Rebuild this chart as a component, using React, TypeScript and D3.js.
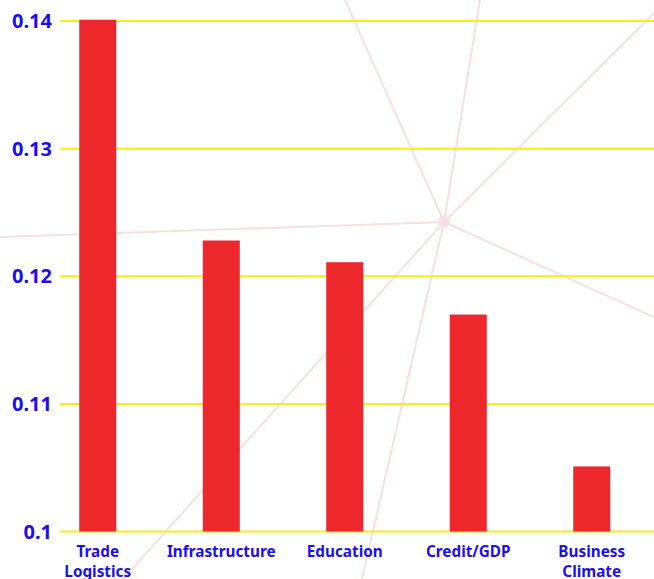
import { useEffect, useRef } from 'react';
import * as d3 from 'd3';

const CATEGORIES = ['Trade Logistics', 'Infrastructure', 'Education', 'Credit/GDP', 'Business Climate'];
const LABEL_LINES = [['Trade', 'Logistics'], ['Infrastructure'], ['Education'], ['Credit/GDP'], ['Business', 'Climate']];
const VALUES = [0.1401, 0.1228, 0.1211, 0.117, 0.1051];
const Y_TICKS = [0.1, 0.11, 0.12, 0.13, 0.14];
const Y_TICK_LABELS = ['0.1', '0.11', '0.12', '0.13', '0.14'];

// faint network decoration behind the plot (hub + rays to the page edge)
const HUB: [number, number] = [444, 222];
const RAY_ENDS: [number, number][] = [
  [345, 0],
  [480, 0],
  [654, 13],
  [654, 317],
  [362, 579],
  [123, 579],
  [0, 237],
];

const BLUE = '#1a0ff0';
const FONT = '"Noto Sans", "Open Sans", sans-serif';

export default function App() {
  const svgRef = useRef<SVGSVGElement>(null);

  useEffect(() => {
    document.body.style.margin = '0';
    const svg = d3.select(svgRef.current);
    if (!svg.node()) return;
    svg.selectAll('*').remove();

    const width = 654;
    const height = 579;
    const margin = { top: 21, right: 0, bottom: 48, left: 60 };

    const x = d3.scaleBand<string>().domain(CATEGORIES).range([36, 653.5]).paddingInner(0.7).paddingOuter(0.35);
    const y = d3.scaleLinear().domain([0.1, 0.14]).range([height - margin.bottom + 0.5, margin.top]);

    const g = svg.append('g');

    const deco = g.append('g');
    RAY_ENDS.forEach(([ex, ey]) => {
      deco.append('line')
        .attr('x1', HUB[0])
        .attr('y1', HUB[1])
        .attr('x2', ex)
        .attr('y2', ey)
        .attr('stroke', '#f6e0e1')
        .attr('stroke-width', 2);
    });
    deco.append('circle').attr('cx', HUB[0]).attr('cy', HUB[1]).attr('r', 6).attr('fill', '#f6e0e1');

    g.append('g')
      .selectAll('line')
      .data(Y_TICKS)
      .join('line')
      .attr('x1', margin.left)
      .attr('x2', width)
      .attr('y1', (d) => y(d))
      .attr('y2', (d) => y(d))
      .attr('stroke', '#fbea1c')
      .attr('stroke-width', 2);

    g.append('g')
      .selectAll('text')
      .data(Y_TICKS)
      .join('text')
      .attr('x', 52)
      .attr('y', (d) => y(d))
      .attr('dy', '0.36em')
      .attr('text-anchor', 'end')
      .attr('fill', BLUE)
      .attr('font-family', FONT)
      .attr('font-weight', 700)
      .attr('font-size', 20)
      .text((_, i) => Y_TICK_LABELS[i]);

    g.append('g')
      .selectAll('rect')
      .data(VALUES)
      .join('rect')
      .attr('x', (_, i) => x(CATEGORIES[i])!)
      .attr('width', x.bandwidth())
      .attr('y', (d) => y(d))
      .attr('height', (d) => y(0.1) - y(d))
      .attr('fill', '#ec282d');

    const labels = g.append('g');
    CATEGORIES.forEach((c, i) => {
      const t = labels.append('text')
        .attr('x', x(c)! + x.bandwidth() / 2)
        .attr('y', 557)
        .attr('text-anchor', 'middle')
        .attr('fill', BLUE)
        .attr('font-family', FONT)
        .attr('font-weight', 700)
        .attr('font-size', 15.3);
      LABEL_LINES[i].forEach((line, j) => {
        t.append('tspan')
          .attr('x', x(c)! + x.bandwidth() / 2)
          .attr('dy', j === 0 ? 0 : 20)
          .text(line);
      });
    });
  }, []);

  return <svg ref={svgRef} width={654} height={579} style={{ display: 'block' }} />;
}
